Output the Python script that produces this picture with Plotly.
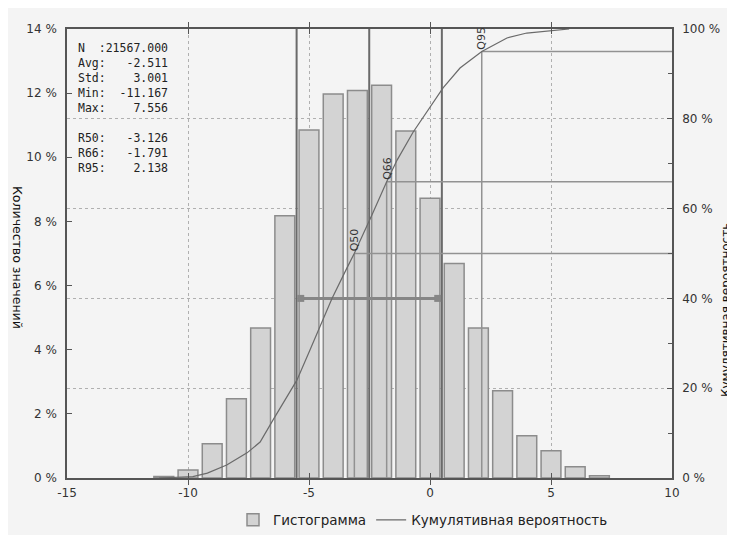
import plotly.graph_objects as go

# ---------------- data ----------------
bar_centers = [-11, -10, -9, -8, -7, -6, -5, -4, -3, -2, -1, 0, 1, 2, 3, 4, 5, 6, 7]
bar_heights = [0.05, 0.25, 1.07, 2.47, 4.68, 8.18, 10.85, 11.97, 12.08, 12.25,
               10.82, 8.72, 6.69, 4.68, 2.72, 1.32, 0.85, 0.35, 0.07]

cum_x = [-11.2, -10.5, -9.8, -9.2, -8.4, -7.56, -7.02, -6.49, -5.91, -5.5, -4.96,
         -4.05, -3.43, -3.13, -2.4, -1.79, -1.36, -0.7, 0.54, 1.24, 2.14, 3.18,
         4.0, 4.84, 5.3, 5.75]
cum_y = [0.0, 0.1, 0.3, 1.1, 2.9, 5.6, 8.0, 12.9, 18.1, 21.8, 28.5,
         40.0, 46.8, 50.0, 58.6, 66.0, 70.8, 77.0, 86.9, 91.3, 95.0, 98.0,
         99.1, 99.6, 99.9, 100.0]

stat_labels = ["N  :", "Avg:", "Std:", "Min:", "Max:"]
stat_values = ["21567.000", "-2.511", "3.001", "-11.167", "7.556"]
avg = -2.511
std = 3.001

q_labels = ["R50:", "R66:", "R95:"]
q_names = ["Q50", "Q66", "Q95"]
q_probs = [50, 66, 95]
q_values = [-3.126, -1.791, 2.138]

arrow_level = 40  # % on right axis

x_ticks = [-15, -10, -5, 0, 5, 10]
left_ticks = [0, 2, 4, 6, 8, 10, 12, 14]
right_ticks = [0, 20, 40, 60, 80, 100]

# ---------------- geometry helpers (layout only) ----------------
# the page body adds an 8 px offset; screen coords = figure coords + 8
OFF = 8
W, H = 735, 535
PL, PR, PT, PB = 67, 672, 29, 478          # plot area in screen pixels
ML, MT = PL - OFF, PT - OFF
PW, PH = PR - PL, PB - PT
MR, MB = W - ML - PW, H - MT - PH


def px_x(px):
    return (px - PL) / PW


def px_y(py):
    return (PB - py) / PH


fig = go.Figure()

fig.add_trace(go.Bar(
    x=bar_centers, y=bar_heights, width=0.82, name="Гистограмма",
    marker=dict(color="#d3d3d3", line=dict(color="#8c8c8c", width=1.5)),
    yaxis="y"))

# mean +- std full-height lines
ms_x, ms_y = [], []
for v in [avg - std, avg, avg + std]:
    ms_x += [v, v, None]
    ms_y += [0, 100, None]
fig.add_trace(go.Scatter(x=ms_x, y=ms_y, mode="lines", yaxis="y2",
                         line=dict(color="#6a6a6a", width=2), showlegend=False,
                         hoverinfo="skip"))

# quantile lines
qx, qy = [], []
for q, p in zip(q_values, q_probs):
    qx += [q, q, None, q, x_ticks[-1], None]
    qy += [0, p, None, p, p, None]
fig.add_trace(go.Scatter(x=qx, y=qy, mode="lines", yaxis="y2",
                         line=dict(color="#929292", width=1.5), showlegend=False,
                         hoverinfo="skip"))

# double arrow between avg-std and avg+std
fig.add_trace(go.Scatter(x=[avg - std + 0.17, avg + std - 0.17], y=[arrow_level, arrow_level],
                         mode="lines+markers", yaxis="y2",
                         line=dict(color="#868686", width=3),
                         marker=dict(symbol="square", size=7, color="#868686"),
                         showlegend=False, hoverinfo="skip"))

# cumulative curve
fig.add_trace(go.Scatter(x=cum_x, y=cum_y, mode="lines", yaxis="y2",
                         name="Кумулятивная вероятность",
                         line=dict(color="#6a6a6a", width=1.2)))

annotations = []
# stats text block
mono = dict(family="DejaVu Sans Mono", size=11.5, color="#222")
for lab, val, py in zip(stat_labels, stat_values, [48, 63, 78, 93, 108]):
    txt = lab + val.rjust(13 - len(lab))
    annotations.append(dict(x=px_x(76), y=px_y(py), xref="paper", yref="paper",
                            text=txt.replace(" ", "\u00a0"), showarrow=False,
                            xanchor="left", yanchor="middle", font=mono))
for lab, val, py in zip(q_labels, q_values, [138, 153, 168]):
    txt = lab + ("%.3f" % val).rjust(13 - len(lab))
    annotations.append(dict(x=px_x(76), y=px_y(py), xref="paper", yref="paper",
                            text=txt.replace(" ", "\u00a0"), showarrow=False,
                            xanchor="left", yanchor="middle", font=mono))

# quantile labels
for name, q, p in zip(q_names, q_values, q_probs):
    annotations.append(dict(x=q, y=p, xref="x", yref="y2", text=name, showarrow=False,
                            textangle=-90, xanchor="center", yanchor="bottom",
                            font=dict(family="DejaVu Sans", size=11, color="#333")))

# axis titles
annotations.append(dict(x=px_x(18), y=px_y(257), xref="paper", yref="paper",
                        text="Количество значений", showarrow=False, textangle=90,
                        xanchor="center", yanchor="middle",
                        font=dict(family="DejaVu Sans", size=12.5, color="#111")))
annotations.append(dict(x=px_x(726), y=px_y(310), xref="paper", yref="paper",
                        text="Кумулятивная вероятность", showarrow=False, textangle=-90,
                        xanchor="center", yanchor="middle",
                        font=dict(family="DejaVu Sans", size=12, color="#111")))

axis_common = dict(showline=True, linecolor="#555", linewidth=1.5, ticks="inside",
                   ticklen=5, tickcolor="#555", zeroline=False, automargin=False,
                   tickfont=dict(size=12, color="#333"))

fig.update_layout(
    width=W, height=H, autosize=False,
    margin=dict(l=ML, r=MR, t=MT, b=MB, pad=0, autoexpand=False),
    paper_bgcolor="#f4f4f4", plot_bgcolor="#f4f4f4",
    font=dict(family="DejaVu Sans", size=12, color="#333"),
    showlegend=True,
    legend=dict(orientation="h", x=px_x(423), xanchor="center", y=px_y(520),
                yanchor="middle", font=dict(size=13.5, color="#222"),
                bgcolor="rgba(0,0,0,0)"),
    xaxis=dict(range=[x_ticks[0], x_ticks[-1]], tickmode="array", tickvals=x_ticks,
               ticktext=[str(v) for v in x_ticks], showgrid=True,
               gridcolor="#b0b0b0", griddash="dot", gridwidth=1,
               mirror="allticks", ticklabelstandoff=3, **axis_common),
    yaxis=dict(range=[left_ticks[0], left_ticks[-1]], tickmode="array", tickvals=left_ticks,
               ticktext=["%d %%" % v for v in left_ticks], showgrid=False,
               ticklabelstandoff=6, **axis_common),
    yaxis2=dict(range=[right_ticks[0], right_ticks[-1]], tickmode="array", tickvals=right_ticks,
                ticktext=["%d %%" % v for v in right_ticks],
                overlaying="y", side="right", showgrid=True,
                gridcolor="#b0b0b0", griddash="dot", gridwidth=1, ticklabelstandoff=6,
                minor=dict(ticks="inside", ticklen=4, dtick=10, tick0=0, tickcolor="#555",
                           showgrid=False),
                **axis_common),
    annotations=annotations,
)

fig.write_html("out.html")
